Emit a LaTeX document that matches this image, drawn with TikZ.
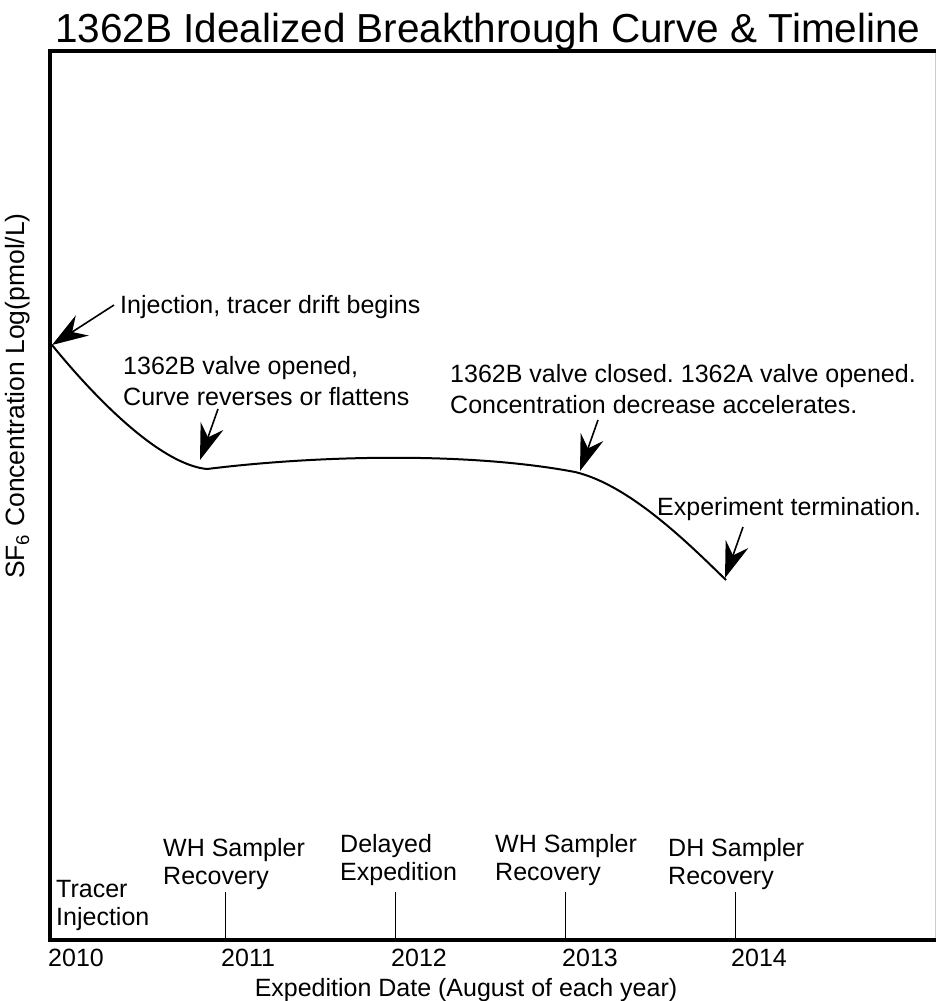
\documentclass[tikz,border=0pt]{standalone}
\usepackage{fontspec}
\setmainfont{Liberation Sans}
\frenchspacing
\usetikzlibrary{arrows.meta}
\tikzset{
  frameline/.style={line width=4.5pt, line cap=rect},
  curveline/.style={line width=2pt},
  tickline/.style={line width=1pt},
  note/.style={anchor=base west, inner sep=0pt, align=left, font=\fontsize{25}{31}\selectfont},
  tl/.style={anchor=base west, inner sep=0pt, font=\fontsize{25}{28}\selectfont, align=left},
  yr/.style={anchor=base west, inner sep=0pt, font=\fontsize{25}{28}\selectfont},
  pointer/.style={line width=1.6pt, -{Stealth[length=36pt, width=24pt, inset=12pt]}},
}
\begin{document}
\begin{tikzpicture}[x=1pt, y=-1pt]
\useasboundingbox (0,0) rectangle (936,1001);
% title
\node[anchor=base west, inner sep=0pt, font=\fontsize{40.5}{44}\selectfont] (title) at (55,42) {1362B Idealized Breakthrough Curve \& Timeline};
% frame
\draw[gray!40, line width=1pt] (935,51) -- (935,940);
\draw[frameline] (938,51) -- (50,51) -- (50,940) -- (938,940);
% ticks
\foreach \x/\n in {225/a,395/b,565/c,735/d} {
  \coordinate (tt\n) at (\x,892);
  \coordinate (tb\n) at (\x,940);
  \draw[tickline] (tt\n) -- (tb\n);
}
% axis labels
\node[rotate=90, inner sep=0pt, font=\fontsize{26.5}{30}\selectfont] (ylab) at (18,396) {SF\textsubscript{6} Concentration Log(pmol/L)};
\node[yr] (y2010) at (48,966) {2010};
\node[yr] (y2011) at (221,966) {2011};
\node[yr] (y2012) at (391,966) {2012};
\node[yr] (y2013) at (562,966) {2013};
\node[yr] (y2014) at (731,966) {2014};
\node[anchor=base, inner sep=0pt, font=\fontsize{25}{28}\selectfont] (xlab) at (466,996) {Expedition Date (August of each year)};
% timeline labels (y = baseline of last line)
\node[tl] (tracer) at (56,925) {Tracer\\Injection};
\node[tl] (wh1) at (163,884) {WH Sampler\\Recovery};
\node[tl] (delay) at (340,880) {Delayed\\Expedition};
\node[tl] (wh2) at (495,880) {WH Sampler\\Recovery};
\node[tl] (dh) at (668,884) {DH Sampler\\Recovery};
% curve
\coordinate (p0) at (52,345);
\coordinate (p1) at (207,469);
\coordinate (p2) at (575,472);
\coordinate (p3) at (726,580);
\draw[curveline] (p0) .. controls (105,410) and (165,465) .. (p1)
  .. controls (320,455) and (470,452) .. (p2)
  .. controls (630,485) and (690,545) .. (p3);
% annotations (y = baseline of last line)
\node[note] (n1) at (120,313) {Injection, tracer drift begins};
\node[note] (n2) at (123,405) {1362B valve opened,\\Curve reverses or flattens};
\node[note] (n3) at (450,413) {1362B valve closed. 1362A valve opened.\\Concentration decrease accelerates.};
\node[note] (n4) at (657,515) {Experiment termination.};
% arrows
\coordinate (a1) at (114,305);
\coordinate (a2) at (218,409);
\coordinate (a3) at (598,420);
\coordinate (a4) at (743,527);
\coordinate (h2) at (200,460);
\coordinate (h3) at (580,471);
\coordinate (h4) at (725,578);
\draw[pointer] (a1) -- (p0);
\draw[pointer] (a2) -- (h2);
\draw[pointer] (a3) -- (h3);
\draw[pointer] (a4) -- (h4);
\end{tikzpicture}
\end{document}
